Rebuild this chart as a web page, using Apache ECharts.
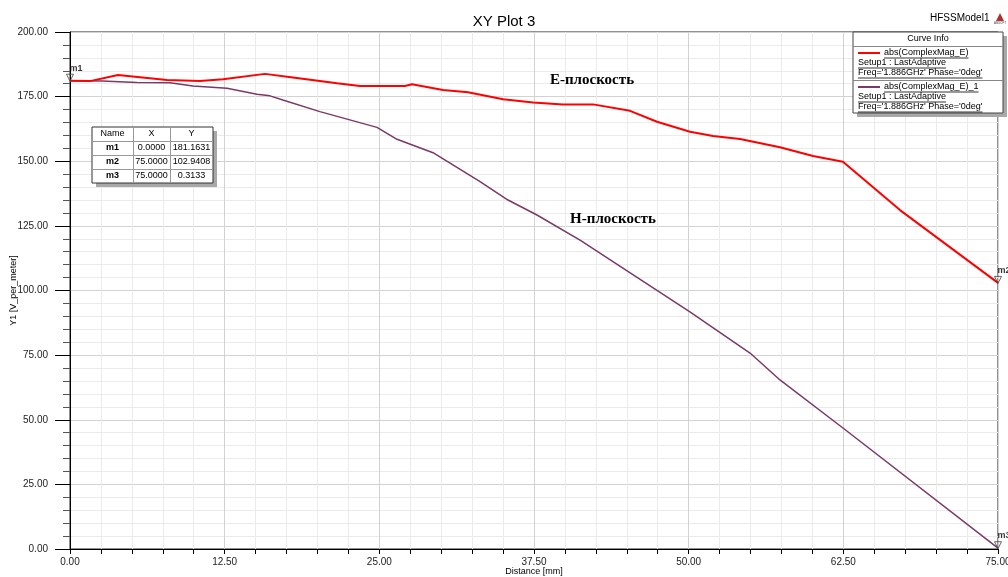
<!DOCTYPE html>
<html><head><meta charset="utf-8">
<script src="https://cdn.jsdelivr.net/npm/echarts@6/dist/echarts.min.js"></script>
<style>html,body{margin:0;padding:0;background:#fff}#c{width:1008px;height:577px}</style>
</head><body><div id="c"></div>
<script>
// ---- data ----
const eDist = [0, 1.62, 3.88, 7.84, 10.5, 12.37, 15.76, 18.02, 21.58, 23.44, 27.07, 27.64, 30.15, 32.17, 35.0, 37.42, 39.84, 42.27, 45.26, 47.44, 50.11, 51.97, 54.15, 57.38, 60.05, 62.47, 67.08, 75];
const eVals = [181.16, 181.0, 183.4, 181.4, 181.0, 181.7, 183.8, 182.4, 180.2, 179.1, 179.1, 179.8, 177.6, 176.7, 174.0, 172.7, 172.0, 172.0, 169.5, 165.3, 161.4, 159.8, 158.6, 155.4, 152.0, 149.8, 131.1, 102.94];
const hDist = [0, 2.59, 5.41, 8.08, 9.94, 12.69, 15.11, 16.16, 17.2, 20.2, 24.81, 26.43, 29.34, 33.14, 35.4, 37.74, 41.22, 50.1, 54.96, 57.38, 62.47, 75];
const hVals = [181.16, 181.0, 180.5, 180.4, 179.1, 178.2, 175.9, 175.3, 173.7, 169.2, 163.1, 158.5, 153.3, 142.1, 135.0, 129.2, 119.5, 91.7, 75.8, 65.4, 46.8, 0.3133];
const markerNames = ['m1', 'm2', 'm3'];
const markerX = [0.0, 75.0, 75.0];
const markerY = [181.1631, 102.9408, 0.3133];
const xTicks = { min: 0, max: 75, step: 12.5 };
const yTicks = { min: 0, max: 200, step: 25 };
const curveNames = ['abs(ComplexMag_E)', 'abs(ComplexMag_E)_1'];
const curveSetup = 'Setup1 : LastAdaptive';
const curveFreq = "Freq='1.886GHz' Phase='0deg'";

// ---- helpers ----
const zip = (a, b) => a.map((v, i) => [v, b[i]]);
const mctx = document.createElement('canvas').getContext('2d');
function tw(text, font) { mctx.font = font; return mctx.measureText(text).width; }

const RED = '#ff0000', PUR = '#7a3a68';
const FONT = 'Liberation Sans, Arial, sans-serif';

// legend graphics
const lg = [];
const LX = 853, LY = 32, LW = 150, LH = 81;
lg.push({type:'rect', shape:{x:LX+4,y:LY+4,width:LW,height:LH}, style:{fill:'#a8a8a8'}, z:100});
lg.push({type:'rect', shape:{x:LX,y:LY,width:LW,height:LH}, style:{fill:'#fff',stroke:'#444',lineWidth:1}, z:101});
lg.push({type:'line', shape:{x1:LX,y1:46.5,x2:LX+LW,y2:46.5}, style:{stroke:'#888',lineWidth:1}, z:102});
lg.push({type:'line', shape:{x1:LX,y1:80.5,x2:LX+LW,y2:80.5}, style:{stroke:'#888',lineWidth:1}, z:102});
lg.push({type:'text', x:LX+LW/2, y:39, style:{text:'Curve Info', font:'9px '+FONT, fill:'#000', align:'center', verticalAlign:'middle'}, z:103});
function ltext(t, x, y) {
  const f = '9px ' + FONT;
  lg.push({type:'text', x:x, y:y, style:{text:t, font:f, fill:'#000', align:'left', verticalAlign:'middle'}, z:103});
  lg.push({type:'line', shape:{x1:x, y1:y+5, x2:x+tw(t, f), y2:y+5}, style:{stroke:'#000', lineWidth:0.8}, z:103});
}
[[RED, 53], [PUR, 87]].forEach((c, i) => {
  const y0 = c[1];
  lg.push({type:'line', shape:{x1:858,y1:y0,x2:880,y2:y0}, style:{stroke:c[0],lineWidth:2}, z:103});
  ltext(curveNames[i], 884, y0);
  ltext(curveSetup, 858, y0 + 10);
  ltext(curveFreq, 858, y0 + 20);
});

// marker table
const TX = 92, TY = 127, colX = [92, 133, 170, 213], rowH = 14;
lg.push({type:'rect', shape:{x:TX+4,y:TY+4,width:121,height:56}, style:{fill:'#a8a8a8'}, z:100});
lg.push({type:'rect', shape:{x:TX,y:TY,width:121,height:56}, style:{fill:'#fff',stroke:'#333',lineWidth:1}, z:101});
[133, 170].forEach(x => lg.push({type:'line', shape:{x1:x+0.5,y1:TY,x2:x+0.5,y2:TY+56}, style:{stroke:'#999',lineWidth:1}, z:102}));
[1,2,3].forEach(r => lg.push({type:'line', shape:{x1:TX,y1:TY+r*rowH+0.5,x2:TX+121,y2:TY+r*rowH+0.5}, style:{stroke:'#999',lineWidth:1}, z:102}));
const headers = ['Name', 'X', 'Y'];
headers.forEach((h, c) => lg.push({type:'text', x:(colX[c]+colX[c+1])/2, y:TY+7, style:{text:h, font:'9px '+FONT, fill:'#000', align:'center', verticalAlign:'middle'}, z:103}));
markerNames.forEach((n, r) => {
  const y = TY + (r+1)*rowH + 7;
  const vals = [n, markerX[r].toFixed(4), markerY[r].toFixed(4)];
  vals.forEach((v, c) => lg.push({type:'text', x:(colX[c]+colX[c+1])/2, y:y, style:{text:v, font:(c===0?'bold ':'')+'9px '+FONT, fill:'#000', align:'center', verticalAlign:'middle'}, z:103}));
});

// header texts
lg.push({type:'text', x:930, y:18, style:{text:'HFSSModel1', font:'10px '+FONT, fill:'#000', align:'left', verticalAlign:'middle'}, z:103});
lg.push({type:'polygon', shape:{points:[[1000,13],[996,21],[1004,21]]}, style:{fill:'#b03030'}, z:103});
lg.push({type:'text', x:1000, y:23, style:{text:'ANSOFT', font:'3px '+FONT, fill:'#444', align:'center', verticalAlign:'middle'}, z:103});

// annotations
lg.push({type:'text', x:592, y:80, style:{text:'E-плоскость', font:'bold 15px "Liberation Serif", "Times New Roman", serif', fill:'#000', align:'center', verticalAlign:'middle'}, z:103});
lg.push({type:'text', x:613, y:219, style:{text:'H-плоскость', font:'bold 15px "Liberation Serif", "Times New Roman", serif', fill:'#000', align:'center', verticalAlign:'middle'}, z:103});

const chart = echarts.init(document.getElementById('c'), null, {renderer:'canvas'});
chart.setOption({
  backgroundColor: '#fff',
  animation: false,
  title: { text: 'XY Plot 3', left: 'center', top: 9, textStyle: { fontFamily: FONT, fontSize: 15, fontWeight: 'normal', color: '#000' } },
  grid: { left: 70, right: 10, top: 32, bottom: 28, containLabel: false, outerBoundsMode: 'none', show: true, borderColor: '#222', borderWidth: 1, backgroundColor: '#fff' },
  xAxis: {
    type: 'value', min: xTicks.min, max: xTicks.max, interval: xTicks.step,
    name: 'Distance [mm]', nameLocation: 'middle', nameGap: 18, nameMoveOverlap: false,
    nameTextStyle: { fontFamily: FONT, fontSize: 9, color: '#000' },
    axisLine: { lineStyle: { color: '#000', width: 1 } },
    axisTick: { show: true, length: 5, lineStyle: { color: '#000' } },
    minorTick: { show: true, splitNumber: 5, length: 5, lineStyle: { color: '#000' } },
    axisLabel: { formatter: v => v.toFixed(2), fontFamily: FONT, fontSize: 10, color: '#222', margin: 8 },
    splitLine: { show: true, lineStyle: { color: '#d2d2d2', width: 1 } },
    minorSplitLine: { show: true, lineStyle: { color: '#ebebeb', width: 1 } }
  },
  yAxis: {
    type: 'value', min: yTicks.min, max: yTicks.max, interval: yTicks.step,
    name: 'Y1 [V_per_meter]', nameLocation: 'middle', nameGap: 52, nameMoveOverlap: false,
    nameTextStyle: { fontFamily: FONT, fontSize: 9, color: '#000' },
    axisLine: { show: true, lineStyle: { color: '#000', width: 1 } },
    axisTick: { show: true, length: 15, inside: false, lineStyle: { color: '#000' } },
    minorTick: { show: true, splitNumber: 5, length: 7, lineStyle: { color: '#555' } },
    axisLabel: { formatter: v => v.toFixed(2), fontFamily: FONT, fontSize: 10, color: '#222', margin: 22 },
    splitLine: { show: true, lineStyle: { color: '#d2d2d2', width: 1 } },
    minorSplitLine: { show: true, lineStyle: { color: '#ebebeb', width: 1 } }
  },
  series: [
    { type: 'line', name: curveNames[0], data: zip(eDist, eVals), showSymbol: false, symbol: 'none', lineStyle: { color: RED, width: 2 }, z: 3 },
    { type: 'line', name: curveNames[1], data: zip(hDist, hVals), showSymbol: false, symbol: 'none', lineStyle: { color: PUR, width: 1.5 }, z: 2 },
    { type: 'scatter', data: zip(markerX, markerY).map((p, i) => ({ value: p, name: markerNames[i] })),
      symbol: 'triangle', symbolRotate: 180, symbolSize: 7, symbolOffset: [0, -3],
      itemStyle: { color: 'rgba(255,255,255,0)', borderColor: '#444', borderWidth: 1 },
      label: { show: true, formatter: p => p.name, position: 'top', offset: [6, 4], fontFamily: FONT, fontSize: 9, fontWeight: 'bold', color: '#000' },
      z: 5, silent: true }
  ],
  graphic: lg
});
</script></body></html>
